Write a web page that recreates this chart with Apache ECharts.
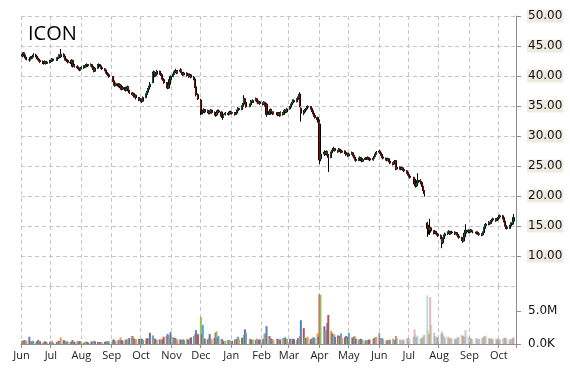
<!DOCTYPE html>
<html><head><meta charset="utf-8">
<script src="https://cdn.jsdelivr.net/npm/echarts@6/dist/echarts.min.js"></script>
<style>html,body{margin:0;padding:0;background:#fff}#c{width:570px;height:370px}</style>
</head><body><div id="c"></div>
<script>
const chartTitle = 'ICON';
const monthNames = ['Jan','Feb','Mar','Apr','May','Jun','Jul','Aug','Sep','Oct','Nov','Dec'];
const priceTicks = [5, 50, 5];      // min, max, step
const volumeTickLabels = {0: '0.0K', 5: '5.0M'};
const holidays = ['2014-07-04','2014-09-01','2014-11-27','2014-12-25','2015-01-01','2015-01-19',
  '2015-02-16','2015-04-03','2015-05-25','2015-07-03','2015-09-07'];
// each trading day: [open, close, low, high, volume (M)]
const jun14 = [[43.3,43.6,43.1,43.9,0.5],[43.6,43.8,43.4,44.0,0.4],[43.8,43.4,43.2,43.9,0.6],[43.4,43.0,42.8,43.6,0.5],[43.0,42.8,42.6,43.2,0.5],[42.7,42.7,42.4,43.0,1.1],[42.7,43.1,42.6,43.3,0.4],[43.1,43.0,42.8,43.3,0.3],[43.0,43.2,42.9,43.5,0.4],[43.2,43.5,43.1,43.8,0.5],[43.5,43.3,43.1,43.7,0.3],[43.3,43.0,42.8,43.4,0.4],[43.0,42.8,42.6,43.2,0.6],[42.8,42.6,42.4,43.0,0.3],[42.6,42.4,42.2,42.8,0.4],[42.4,42.3,42.0,42.6,0.2],[42.3,42.2,41.9,42.5,0.3],[42.2,42.4,42.0,42.6,0.4],[42.4,42.1,41.9,42.5,0.3],[42.1,42.3,42.0,42.5,0.2],[42.3,42.4,42.1,42.7,0.3]];
const jul14 = [[42.4,42.5,42.2,42.7,0.4],[42.5,42.8,42.4,43.0,0.5],[42.8,42.6,42.4,42.9,0.2],[42.6,42.9,42.5,43.1,0.3],[42.9,43.0,42.7,43.2,0.4],[43.0,43.4,42.9,43.6,0.5],[43.4,43.2,43.0,43.6,0.4],[43.2,43.6,43.0,44.5,1.0],[43.6,43.3,43.1,43.8,0.6],[43.3,42.8,42.6,43.4,0.5],[42.8,42.7,42.5,43.0,0.4],[42.7,42.6,42.3,42.9,0.3],[42.6,42.3,42.1,42.7,0.4],[42.3,42.2,42.0,42.5,0.3],[42.2,42.6,42.1,42.8,0.3],[42.6,41.6,41.4,42.7,0.6],[41.6,41.8,41.5,42.0,0.4],[41.8,41.6,41.4,42.0,0.3],[41.6,41.4,41.2,41.8,0.4],[41.4,41.2,41.0,41.6,0.5],[41.2,41.0,40.8,41.4,0.4],[41.0,41.3,40.9,41.5,0.4]];
const aug14 = [[41.3,41.4,41.1,41.6,0.3],[41.4,41.6,41.2,41.8,0.2],[41.6,41.5,41.3,41.8,0.3],[41.5,41.8,41.4,42.0,0.4],[41.8,41.9,41.6,42.1,0.3],[41.9,41.7,41.5,42.0,0.2],[41.7,41.9,41.6,42.1,0.3],[41.9,41.6,41.4,42.0,0.4],[41.6,41.2,41.0,41.7,0.3],[41.2,40.8,40.6,41.3,0.5],[40.8,41.3,40.7,41.5,0.4],[41.3,41.8,41.2,42.0,0.3],[41.8,41.9,41.6,42.1,0.2],[41.9,41.7,41.5,42.0,0.3],[41.7,41.4,41.2,41.8,0.3],[41.4,41.2,41.0,41.5,0.2],[41.2,41.0,40.8,41.3,0.3],[41.0,40.6,40.4,41.1,0.4],[40.6,40.4,40.2,40.7,0.3],[40.4,40.2,40.0,40.6,0.4],[40.2,39.9,39.7,40.3,0.4]];
const sep14 = [[39.9,39.2,39.0,40.0,0.6],[39.2,38.6,38.4,39.3,0.7],[38.6,38.4,38.2,38.8,0.5],[38.4,38.7,38.3,38.9,0.4],[38.7,38.3,38.1,38.8,0.6],[38.3,38.5,38.2,38.7,0.5],[38.5,38.0,37.8,38.6,1.0],[38.0,37.8,37.6,38.2,0.6],[37.8,38.1,37.7,38.3,0.5],[38.1,37.6,37.4,38.2,0.6],[37.6,37.9,37.5,38.1,0.7],[37.9,38.2,37.8,38.4,0.5],[38.2,37.5,37.3,38.3,0.8],[37.5,37.2,37.0,37.7,0.9],[37.2,36.9,36.7,37.3,1.2],[36.9,37.1,36.8,37.3,1.1],[37.1,36.6,36.4,37.2,0.8],[36.6,36.8,36.4,37.0,0.6],[36.8,36.4,36.1,36.9,0.7],[36.4,36.0,35.8,36.5,0.8],[36.0,36.2,35.9,36.4,0.7]];
const oct14 = [[36.2,36.0,35.7,36.3,0.7],[36.0,35.8,35.5,36.1,0.8],[35.8,36.4,35.7,36.6,0.6],[36.4,36.9,36.3,37.1,0.7],[36.9,37.3,36.8,37.5,0.9],[37.3,37.8,37.1,38.0,0.8],[37.8,38.2,37.6,38.4,0.7],[38.2,38.6,38.0,39.0,1.7],[38.9,40.4,38.8,40.7,1.3],[40.4,40.6,40.1,40.9,0.9],[40.6,40.1,39.8,40.8,0.8],[40.1,40.3,39.9,40.6,0.7],[40.3,40.8,40.2,41.0,0.6],[40.8,40.4,40.2,40.9,0.7],[40.4,40.2,40.0,40.6,0.5],[40.2,39.6,39.4,40.3,0.8],[39.6,39.4,39.2,39.8,0.6],[39.4,38.9,38.7,39.5,1.1],[38.9,38.3,38.1,39.0,1.2],[38.3,38.0,37.8,38.5,1.5],[38.0,38.6,37.9,38.8,1.3],[38.6,39.4,38.5,39.6,1.0],[39.4,39.9,39.2,40.1,1.8]];
const nov14 = [[39.9,40.3,39.8,40.5,1.0],[40.3,40.7,40.2,40.9,0.8],[40.7,40.9,40.5,41.2,0.9],[40.9,40.5,40.3,41.0,0.7],[40.5,40.8,40.4,41.0,0.6],[40.8,41.0,40.6,41.3,0.7],[41.0,40.6,40.4,41.1,0.6],[40.6,40.4,40.2,40.8,0.5],[40.4,40.2,40.0,40.6,0.7],[40.2,40.5,40.1,40.7,0.6],[40.5,40.1,39.9,40.6,0.8],[40.1,40.3,40.0,40.5,0.6],[40.3,39.9,39.7,40.4,0.7],[39.9,40.2,39.8,40.4,0.9],[40.2,39.8,39.6,40.3,1.0],[39.8,39.5,39.3,40.0,1.2],[39.5,38.2,38.0,39.6,1.5],[38.2,36.9,36.6,38.4,2.1],[36.9,36.2,36.0,37.1,1.5]];
const dec14 = [[36.0,34.2,33.5,36.2,4.1],[34.2,33.9,33.6,34.5,1.5],[33.9,34.1,33.6,34.4,2.9],[34.1,34.4,33.9,34.6,0.9],[34.4,34.0,33.8,34.5,0.8],[34.0,34.2,33.8,34.4,0.7],[34.2,33.8,33.6,34.3,0.9],[33.8,34.0,33.6,34.2,1.5],[34.0,34.3,33.8,34.5,0.8],[34.3,33.9,33.7,34.4,0.7],[33.9,33.7,33.4,34.1,0.9],[33.7,33.5,33.2,33.9,1.7],[33.5,33.9,33.3,34.1,1.9],[33.9,34.2,33.8,34.4,1.0],[34.2,34.0,33.8,34.4,1.2],[34.0,33.3,33.1,34.1,0.8],[33.3,33.1,32.7,33.4,0.7],[33.1,33.6,33.0,33.7,0.4],[33.6,33.8,33.4,34.0,0.5],[33.8,33.6,33.4,34.0,0.6],[33.6,34.0,33.5,34.2,0.6],[34.0,33.8,33.6,34.2,0.5]];
const jan15 = [[33.8,33.9,33.6,34.1,0.5],[33.9,33.6,33.4,34.0,0.7],[33.6,33.8,33.5,34.0,0.6],[33.8,34.2,33.7,34.4,0.8],[34.2,34.6,34.1,34.8,1.1],[34.6,34.4,34.2,34.7,0.7],[34.4,34.9,34.3,35.1,0.9],[34.9,35.3,34.8,35.5,1.0],[35.3,36.2,35.2,36.8,1.4],[36.2,35.6,35.4,36.3,2.2],[35.6,34.9,34.7,35.7,1.7],[34.9,35.2,34.8,35.4,0.8],[35.2,35.8,35.1,36.0,0.7],[35.8,35.6,35.4,35.9,0.6],[35.6,35.9,35.5,36.1,0.7],[35.9,36.2,35.8,36.4,0.6],[36.2,35.8,35.6,36.3,0.8],[35.8,35.5,35.3,36.0,0.7],[35.5,35.7,35.4,35.9,0.6],[35.7,35.4,35.2,35.8,0.7]];
const feb15 = [[35.4,35.3,35.1,35.6,0.7],[35.3,35.6,35.2,35.8,0.8],[35.6,35.1,34.9,35.7,1.6],[35.1,35.3,35.0,35.5,1.6],[35.3,33.6,33.2,35.5,2.7],[33.6,34.1,33.5,34.3,1.2],[34.1,34.4,34.0,34.6,0.9],[34.4,34.0,33.8,34.5,0.8],[34.0,33.7,33.5,34.1,0.7],[33.7,33.9,33.6,34.1,0.6],[33.9,33.5,33.3,34.0,0.8],[33.5,33.8,33.4,34.0,0.7],[33.8,33.4,33.2,33.9,0.6],[33.4,33.9,33.3,34.1,0.7],[33.9,33.6,33.4,34.0,0.9],[33.6,34.1,33.5,34.3,0.8],[34.1,34.3,33.9,34.5,1.0],[34.3,34.0,33.8,34.4,0.7],[34.0,34.5,33.9,34.7,0.8]];
const mar15 = [[34.5,34.8,34.4,35.0,0.8],[34.8,35.2,34.7,35.4,0.7],[35.2,35.5,35.0,35.7,0.6],[35.5,35.9,35.4,36.1,0.8],[35.9,35.7,35.5,36.1,0.7],[35.7,36.1,35.6,36.3,0.6],[36.1,36.4,36.0,36.6,0.9],[36.4,36.8,36.3,37.0,0.8],[37.0,35.0,34.8,37.3,1.2],[34.6,33.8,32.4,34.8,3.6],[33.8,34.0,33.5,34.3,2.4],[34.0,34.3,33.9,34.5,1.0],[34.3,34.5,34.1,34.7,0.9],[34.5,34.8,34.4,35.0,0.8],[34.8,34.9,34.6,35.1,1.1],[34.9,34.6,34.4,35.0,0.7],[34.6,34.2,34.0,34.7,0.8],[34.2,33.8,33.6,34.3,0.9],[33.8,33.4,33.2,33.9,1.0],[33.4,33.1,32.9,33.5,0.9],[33.1,32.7,32.5,33.2,1.6],[32.7,32.3,32.0,32.8,1.1]];
const apr15 = [[32.0,26.0,25.3,32.1,7.5],[26.2,27.0,25.8,27.4,7.4],[27.0,27.3,26.7,27.6,2.7],[27.3,27.0,26.8,27.5,2.0],[27.0,27.4,26.9,27.6,2.1],[27.4,26.8,26.5,27.5,3.2],[26.8,26.4,24.0,27.0,4.4],[26.4,27.2,26.3,27.4,2.0],[27.2,27.5,27.0,27.7,1.6],[27.5,27.7,27.3,28.0,1.2],[27.7,27.9,27.5,28.2,1.5],[27.9,27.6,27.4,28.0,1.1],[27.6,27.4,27.2,27.7,1.3],[27.4,27.8,27.3,28.0,1.0],[27.8,27.6,27.4,27.9,1.2],[27.6,27.3,27.1,27.7,1.6],[27.3,27.5,27.2,27.7,0.9],[27.5,27.2,27.0,27.6,1.0],[27.2,26.9,26.7,27.3,1.2],[26.9,27.1,26.8,27.3,0.9],[27.1,26.7,26.5,27.2,1.1]];
const may15 = [[26.7,27.0,26.6,27.2,1.7],[27.0,27.2,26.9,27.4,1.0],[27.2,26.8,26.6,27.3,0.9],[26.8,26.5,26.3,26.9,1.1],[26.5,26.1,25.9,26.6,1.2],[26.1,25.9,25.7,26.2,0.8],[25.9,26.2,25.8,26.4,0.7],[26.2,26.4,26.0,26.6,0.6],[26.4,26.0,25.8,26.5,0.8],[26.0,25.8,25.6,26.2,0.7],[25.8,26.1,25.7,26.3,0.6],[26.1,26.3,26.0,26.5,0.5],[26.3,26.2,26.0,26.4,0.6],[26.2,26.4,26.1,26.6,0.5],[26.4,26.2,26.0,26.5,0.6],[26.2,26.0,25.8,26.3,0.7],[26.0,26.3,25.9,26.5,0.8],[26.3,26.6,26.2,26.8,0.9],[26.6,27.0,26.5,27.2,1.0],[27.0,27.3,26.9,27.5,1.1]];
const jun15 = [[27.3,27.5,27.1,27.7,1.7],[27.5,27.2,27.0,27.6,0.9],[27.2,26.9,26.7,27.3,0.8],[26.9,26.5,26.3,27.0,0.9],[26.5,26.3,26.1,26.6,0.7],[26.3,26.1,25.9,26.4,0.6],[26.1,26.0,25.8,26.2,0.5],[26.0,26.2,25.9,26.4,0.6],[26.2,25.8,25.6,26.3,0.7],[25.8,25.5,25.3,25.9,0.6],[25.5,25.3,25.1,25.6,0.8],[25.3,25.6,25.2,25.8,0.7],[25.6,25.8,25.4,26.0,0.6],[25.9,24.5,24.3,26.0,1.2],[24.5,24.8,24.4,25.0,0.9],[24.8,24.6,24.4,24.9,0.7],[24.6,24.5,24.3,24.8,0.6],[24.5,24.7,24.4,24.9,0.5],[24.7,24.4,24.2,24.8,0.7],[24.4,24.2,24.0,24.5,0.6],[24.2,23.9,23.7,24.3,0.8],[23.9,23.6,23.4,24.0,0.9]];
const jul15 = [[23.6,23.3,23.1,23.8,0.9],[23.3,23.1,22.9,23.5,0.8],[23.1,22.8,22.6,23.2,1.1],[22.8,22.0,21.8,22.9,2.2],[22.0,21.7,21.4,22.2,1.4],[21.7,22.2,21.5,22.4,1.0],[22.2,22.6,22.0,23.8,1.2],[22.6,22.4,22.2,22.8,0.8],[22.4,22.0,21.8,22.5,0.9],[22.0,21.6,21.4,22.3,1.0],[21.6,20.9,20.7,21.7,1.3],[20.9,20.4,19.9,21.0,1.4],[15.5,14.6,13.2,15.7,7.4],[14.6,14.8,13.6,15.2,2.0],[14.8,14.3,14.0,15.0,1.5],[14.3,14.7,13.5,16.2,7.1],[14.7,14.2,13.9,14.8,2.9],[14.2,13.9,13.6,14.3,1.7],[13.9,14.1,13.7,14.3,1.2],[14.1,13.8,13.6,14.2,1.0],[13.8,13.6,13.4,13.9,1.1],[13.6,13.4,13.2,13.7,0.9]];
const aug15 = [[13.4,13.0,12.8,13.6,1.6],[13.0,12.2,11.3,13.1,1.9],[12.2,12.9,12.0,13.1,1.5],[12.9,13.4,12.8,13.6,1.2],[13.4,13.7,13.2,13.9,1.0],[13.7,13.9,13.5,14.1,1.1],[13.9,14.1,13.7,14.3,0.9],[14.1,13.7,13.5,14.2,1.0],[13.7,13.9,13.6,14.1,0.8],[13.9,14.0,13.7,14.2,0.9],[14.0,13.7,13.5,14.1,0.8],[13.7,13.9,13.6,14.0,0.7],[13.9,13.6,13.4,14.0,0.9],[13.6,13.3,13.1,13.7,1.0],[13.3,13.1,12.9,13.4,1.1],[13.1,12.8,12.5,13.2,1.4],[12.8,12.5,12.2,13.0,1.3],[12.5,13.2,12.4,13.4,1.2],[13.2,13.8,13.1,14.0,1.0],[13.8,14.3,13.7,15.3,2.1],[14.3,14.0,13.8,14.4,1.1]];
const sep15 = [[14.0,14.1,13.8,14.3,1.0],[14.1,14.3,13.9,14.5,0.9],[14.3,14.2,14.0,14.4,0.8],[14.2,14.0,13.8,14.3,0.7],[14.0,13.8,13.6,14.1,0.9],[13.8,13.9,13.6,14.1,0.8],[13.9,13.6,13.4,14.0,0.7],[13.6,13.7,13.4,13.9,0.8],[13.7,13.5,13.3,13.8,0.9],[13.5,13.9,13.4,14.1,1.0],[13.9,14.6,13.8,14.8,1.2],[14.6,15.1,14.5,15.3,1.1],[15.1,15.3,14.9,15.5,1.3],[15.3,15.6,15.1,15.8,0.9],[15.6,15.4,15.2,15.7,0.8],[15.4,15.8,15.3,16.0,0.9],[15.8,16.0,15.6,16.2,0.7],[16.0,16.2,15.8,16.4,0.8],[16.2,15.9,15.7,16.3,0.9],[15.9,16.1,15.8,16.3,0.7],[16.1,16.3,15.9,16.5,0.8]];
const oct15 = [[16.3,16.5,16.1,16.8,0.8],[16.5,16.7,16.3,16.9,0.7],[16.7,16.4,16.1,16.8,0.8],[16.4,15.8,15.6,16.5,0.9],[15.8,15.1,14.9,15.9,1.0],[15.1,14.8,14.5,15.2,0.9],[14.8,14.6,14.4,15.0,0.8],[14.6,15.0,14.5,15.2,0.7],[15.0,15.4,14.9,15.6,0.8],[15.4,15.3,15.1,15.6,0.7],[15.3,15.8,15.2,16.0,0.9],[15.8,16.4,15.7,17.0,1.0]];
const monthList = [[2014,6,jun14],[2014,7,jul14],[2014,8,aug14],[2014,9,sep14],[2014,10,oct14],[2014,11,nov14],[2014,12,dec14],
  [2015,1,jan15],[2015,2,feb15],[2015,3,mar15],[2015,4,apr15],[2015,5,may15],[2015,6,jun15],[2015,7,jul15],[2015,8,aug15],[2015,9,sep15],[2015,10,oct15]];

const DAY = 86400000;
const fmt = d => d.toISOString().slice(0, 10);
const cats = [];
for (let t = Date.UTC(2014, 5, 1); t <= Date.UTC(2015, 9, 18); t += DAY) cats.push(fmt(new Date(t)));
const catIndex = {}; cats.forEach((c, i) => catIndex[c] = i);

const wicks = [], bodies = [], vols = [];
monthList.forEach(([y, m, rows]) => {
  let k = 0;
  for (let day = 1; day <= 31 && k < rows.length; day++) {
    const d = new Date(Date.UTC(y, m - 1, day));
    if (d.getUTCMonth() !== m - 1) break;
    const wd = d.getUTCDay();
    if (wd === 0 || wd === 6) continue;
    const s = fmt(d);
    if (holidays.indexOf(s) >= 0) continue;
    const [o, c, l, h, v] = rows[k++];
    const i = catIndex[s];
    wicks.push([i, o, c, l, h]);
    bodies.push([i, o, c, Math.min(o, c), Math.max(o, c)]);
    vols.push({ value: [i, v], date: s });
  }
});

const palette = ['#4F81BD', '#C0504D', '#9BBB59', '#8064A2', '#4BACC6', '#F79646'];
vols.forEach((p, n) => {
  const op = p.date >= '2015-06-22' ? 0.4 : (p.date >= '2015-06-01' ? 0.7 : 1);
  p.itemStyle = { color: palette[(n + 1) % 6], opacity: op };
});

const isMonthStart = (idx, val) => val.slice(8, 10) === '01';
const gridLine = { show: true, interval: isMonthStart, lineStyle: { color: '#c6c6c6', type: [4, 3], width: 1 } };
const axisGray = '#8f8f8f';

const chart = echarts.init(document.getElementById('c'), null, { renderer: 'canvas' });
chart.setOption({
  animation: false,
  backgroundColor: '#ffffff',
  title: { text: chartTitle, left: 23, top: 19, textStyle: { fontFamily: 'Open Sans', fontSize: 20, fontWeight: 'normal', color: '#000' } },
  grid: [
    { left: 21, right: 54, top: 16, height: 270 },
    { left: 21, right: 54, top: 286, height: 58 }
  ],
  xAxis: [
    { type: 'category', gridIndex: 0, data: cats, boundaryGap: true,
      axisLine: { show: false }, axisTick: { show: false }, axisLabel: { show: false }, splitLine: gridLine },
    { type: 'category', gridIndex: 1, data: cats, boundaryGap: true,
      axisLine: { show: true, lineStyle: { color: axisGray } },
      axisTick: { show: true, interval: isMonthStart, length: 4, lineStyle: { color: axisGray } },
      axisLabel: { interval: isMonthStart, margin: 6, fontFamily: 'Open Sans', fontSize: 11, color: '#222',
        formatter: v => monthNames[parseInt(v.slice(5, 7), 10) - 1] },
      splitLine: gridLine }
  ],
  yAxis: [
    { type: 'value', gridIndex: 0, position: 'right', min: priceTicks[0], max: priceTicks[1], interval: priceTicks[2],
      axisLine: { show: true, lineStyle: { color: axisGray } },
      axisTick: { show: true, length: 5, lineStyle: { color: axisGray } },
      axisLabel: { showMinLabel: false, margin: 11, fontFamily: 'DejaVu Sans', fontSize: 12, color: '#111',
        backgroundColor: '#eeece1', padding: [1, 1, 0, 1], formatter: v => v.toFixed(2) },
      splitLine: { show: true, lineStyle: { color: '#c6c6c6', type: [4, 3], width: 1 } } },
    { type: 'value', gridIndex: 1, position: 'right', min: 0, max: 8.79, interval: 5,
      axisLine: { show: true, lineStyle: { color: axisGray } },
      axisTick: { show: true, length: 5, lineStyle: { color: axisGray } },
      axisLabel: { showMaxLabel: false, margin: 12, fontFamily: 'DejaVu Sans', fontSize: 12, color: '#111',
        formatter: v => volumeTickLabels[v] || '' },
      splitLine: { show: false } }
  ],
  series: [
    { type: 'bar', xAxisIndex: 1, yAxisIndex: 1, data: vols, barWidth: 2, barGap: '0%', z: 2 },
    { type: 'candlestick', xAxisIndex: 0, yAxisIndex: 0, data: wicks, encode: { x: 0, y: [1, 2, 3, 4] },
      barWidth: 1.6, itemStyle: { color: '#000', color0: '#000', borderColor: '#000', borderColor0: '#000', borderWidth: 1 }, z: 3 },
    { type: 'candlestick', xAxisIndex: 0, yAxisIndex: 0, data: bodies, encode: { x: 0, y: [1, 2, 3, 4] },
      barWidth: 1, itemStyle: { color: '#00a651', color0: '#ff0000', borderColor: '#00a651', borderColor0: '#ff0000', borderWidth: 0.6 }, z: 4 }
  ]
});
</script>
</body></html>
